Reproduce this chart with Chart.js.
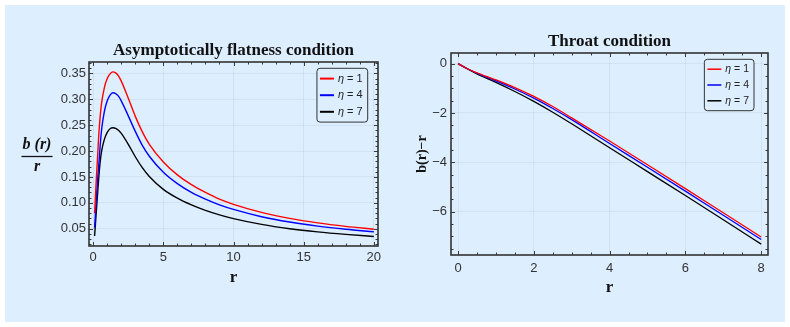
<!DOCTYPE html>
<html>
<head>
<meta charset="utf-8">
<script src="https://cdn.jsdelivr.net/npm/chart.js@4.4.0/dist/chart.umd.min.js"></script>
<style>
  body { margin: 0; background: #fff; }
  #panel { position: absolute; left: 5px; top: 5px; width: 780px; height: 317px; background: #ddeeff; }
  #flat { position: absolute; left: 0; top: 0; }
  #throat { position: absolute; left: 400px; top: 0; }
</style>
</head>
<body>
<div id="panel"></div>
<canvas id="flat" width="400" height="327"></canvas>
<canvas id="throat" width="390" height="327"></canvas>
<script>
// values
const etaValues = [1, 4, 7];
const lineColors = ["#ff0000", "#0000ff", "#000000"];

const rFlat = [0.1, 0.2, 0.3, 0.4, 0.5, 0.6, 0.8, 1.0, 1.2, 1.4, 1.6, 1.8, 2.0, 2.5, 3, 3.5, 4, 5, 6, 7, 8, 9, 10, 12, 14, 16, 18, 20];
const flatEta1 = [0.080, 0.135, 0.183, 0.232, 0.268, 0.293, 0.323, 0.340, 0.349, 0.353, 0.351, 0.345, 0.335, 0.302, 0.267, 0.237, 0.213, 0.179, 0.154, 0.135, 0.120, 0.107, 0.097, 0.0815, 0.070, 0.0613, 0.0545, 0.049];
const flatEta4 = [0.052, 0.098, 0.140, 0.175, 0.212, 0.242, 0.277, 0.297, 0.308, 0.3125, 0.311, 0.306, 0.297, 0.268, 0.238, 0.211, 0.190, 0.159, 0.137, 0.120, 0.107, 0.096, 0.0872, 0.0732, 0.0629, 0.055, 0.0489, 0.044];
const flatEta7 = [0.036, 0.075, 0.113, 0.150, 0.180, 0.200, 0.223, 0.236, 0.243, 0.245, 0.244, 0.240, 0.234, 0.213, 0.189, 0.168, 0.151, 0.126, 0.109, 0.096, 0.0854, 0.0767, 0.0695, 0.0583, 0.050, 0.0438, 0.039, 0.035];

const rThroat = [0, 0.25, 0.5, 1, 1.5, 2, 2.5, 3, 4, 5, 6, 7, 8];
const throatEta1 = [0, -0.21, -0.37, -0.66, -0.97, -1.33, -1.74, -2.20, -3.14, -4.10, -5.07, -6.05, -7.03];
const throatEta4 = [0, -0.21, -0.39, -0.70, -1.03, -1.40, -1.82, -2.27, -3.24, -4.20, -5.17, -6.15, -7.13];
const throatEta7 = [0, -0.22, -0.42, -0.76, -1.13, -1.53, -1.97, -2.44, -3.41, -4.38, -5.35, -6.33, -7.32];

const panelBg = "#ddeeff";
Chart.defaults.font.family = "'Liberation Sans', Arial, sans-serif";
Chart.defaults.color = "#333";

function buildSets(xs, series, width) {
  return series.map((ys, i) => ({
    label: "η = " + etaValues[i],
    data: xs.map((x, j) => ({ x: x, y: ys[j] })),
    borderColor: lineColors[i],
    borderWidth: width,
    pointRadius: 0,
    cubicInterpolationMode: "monotone",
    fill: false,
  }));
}

function fmtTick(v, digits) {
  if (Math.abs(v) < 1e-9) return "0";
  return (digits ? v.toFixed(digits) : String(Math.round(v))).replace("-", "\u2212");
}

// Mathematica style frame with inward major/minor ticks on all sides
const framePlugin = {
  id: "frame",
  afterDatasetsDraw(chart, args, opts) {
    const { ctx, chartArea: a, scales } = chart;
    ctx.save();
    ctx.strokeStyle = "#3a3a3a";
    ctx.lineWidth = 1;
    const eachTick = (scale, minor, major, cb) => {
      let v = Math.ceil(scale.min / minor - 1e-9) * minor;
      for (; v <= scale.max + 1e-9; v += minor) {
        const isMajor = Math.abs(v / major - Math.round(v / major)) < 1e-6;
        cb(scale.getPixelForValue(v), isMajor ? opts.majorLen : opts.minorLen);
      }
    };
    ctx.beginPath();
    eachTick(scales.x, opts.xMinor, opts.xMajor, (px, len) => {
      px = Math.round(px) + 0.5;
      ctx.moveTo(px, a.bottom); ctx.lineTo(px, a.bottom - len);
      ctx.moveTo(px, a.top); ctx.lineTo(px, a.top + len);
    });
    eachTick(scales.y, opts.yMinor, opts.yMajor, (py, len) => {
      py = Math.round(py) + 0.5;
      ctx.moveTo(a.left, py); ctx.lineTo(a.left + len, py);
      ctx.moveTo(a.right, py); ctx.lineTo(a.right - len, py);
    });
    ctx.stroke();
    ctx.lineWidth = 1.6;
    ctx.strokeStyle = "#333";
    ctx.strokeRect(a.left, a.top, a.right - a.left, a.bottom - a.top);
    ctx.restore();
  },
};

// boxed legend in the upper right corner of the plot
const boxLegendPlugin = {
  id: "boxLegend",
  afterDraw(chart, args, opts) {
    const { ctx, chartArea: a } = chart;
    const sets = chart.data.datasets;
    const fontSize = opts.fontSize;
    ctx.save();
    let textW = 0;
    sets.forEach((ds) => {
      ctx.font = "italic " + fontSize + "px 'Liberation Sans', Arial, sans-serif";
      let w = ctx.measureText("η").width;
      ctx.font = fontSize + "px 'Liberation Sans', Arial, sans-serif";
      w += ctx.measureText(ds.label.slice(1)).width;
      textW = Math.max(textW, w);
    });
    const boxW = 3 + opts.lineLen + 4 + textW + 5;
    const boxH = opts.rowH * sets.length + 4;
    const x0 = a.right - opts.right - boxW;
    const y0 = a.top + opts.top;
    ctx.beginPath();
    ctx.roundRect(x0, y0, boxW, boxH, 3);
    ctx.fillStyle = panelBg;
    ctx.fill();
    ctx.lineWidth = 1;
    ctx.strokeStyle = "#333";
    ctx.stroke();
    sets.forEach((ds, i) => {
      const cy = y0 + 2 + opts.rowH * (i + 0.5);
      ctx.beginPath();
      ctx.strokeStyle = ds.borderColor;
      ctx.lineWidth = opts.lineW;
      ctx.moveTo(x0 + 3, cy);
      ctx.lineTo(x0 + 3 + opts.lineLen, cy);
      ctx.stroke();
      ctx.fillStyle = "#222";
      ctx.textBaseline = "middle";
      let tx = x0 + 3 + opts.lineLen + 4;
      ctx.font = "italic " + fontSize + "px 'Liberation Sans', Arial, sans-serif";
      ctx.fillText("η", tx, cy);
      tx += ctx.measureText("η").width;
      ctx.font = fontSize + "px 'Liberation Sans', Arial, sans-serif";
      ctx.fillText(ds.label.slice(1), tx, cy);
    });
    ctx.restore();
  },
};

// stacked fraction label b(r)/r left of the first plot
const fractionLabelPlugin = {
  id: "fractionLabel",
  afterDraw(chart, args, opts) {
    if (!opts.top) return;
    const { ctx, chartArea: a } = chart;
    const cy = (a.top + a.bottom) / 2 + 2;
    ctx.save();
    ctx.fillStyle = "#111";
    ctx.textAlign = "center";
    ctx.font = "bold italic 16px 'Liberation Serif', 'Times New Roman', serif";
    ctx.textBaseline = "alphabetic";
    ctx.fillText(opts.top, opts.x, cy - 7);
    ctx.fillText(opts.bottom, opts.x, cy + 15);
    ctx.beginPath();
    ctx.lineWidth = 1.3;
    ctx.strokeStyle = "#111";
    ctx.moveTo(opts.x - 15.5, cy + 0.5);
    ctx.lineTo(opts.x + 15.5, cy + 0.5);
    ctx.stroke();
    ctx.restore();
  },
};

const gridStyle = { color: "rgba(60, 90, 120, 0.08)", lineWidth: 1, drawTicks: false };

new Chart(document.getElementById("flat"), {
  type: "line",
  data: { datasets: buildSets(rFlat, [flatEta1, flatEta4, flatEta7], 1.4) },
  options: {
    responsive: false,
    animation: false,
    layout: { padding: { left: 0, right: 22, top: 0, bottom: 0 } },
    scales: {
      x: {
        type: "linear",
        min: -0.3,
        max: 20.3,
        grid: gridStyle,
        border: { display: false },
        ticks: { stepSize: 5, includeBounds: false, padding: 4, font: { size: 13 }, callback: (v) => fmtTick(v, 0) },
        title: { display: true, text: "r", color: "#111", font: { family: "'Liberation Serif', serif", size: 17, weight: "bold" }, padding: { top: 0, bottom: 39 } },
        afterFit: (s) => { s.height = 81; },
      },
      y: {
        min: 0.0166,
        max: 0.372,
        grid: gridStyle,
        border: { display: false },
        ticks: { stepSize: 0.05, includeBounds: false, padding: 3, font: { size: 13 }, callback: (v) => fmtTick(v, 2) },
        afterFit: (s) => { s.width = 89; },
      },
    },
    plugins: {
      legend: { display: false },
      tooltip: { enabled: false },
      title: {
        display: true,
        fullSize: false,
        text: "Asymptotically flatness condition",
        color: "#111",
        font: { family: "'Liberation Serif', serif", size: 17, weight: "bold" },
        padding: { top: 40.4, bottom: 1.2 },
      },
      frame: { xMinor: 1, xMajor: 5, yMinor: 0.01, yMajor: 0.05, majorLen: 4, minorLen: 2.5 },
      boxLegend: { right: 10.3, top: 6.3, rowH: 16.6, lineLen: 14, lineW: 2, fontSize: 11 },
      fractionLabel: { top: "b (r)", bottom: "r", x: 37 },
    },
  },
  plugins: [framePlugin, boxLegendPlugin, fractionLabelPlugin],
});

new Chart(document.getElementById("throat"), {
  type: "line",
  data: { datasets: buildSets(rThroat, [throatEta1, throatEta4, throatEta7], 1.3) },
  options: {
    responsive: false,
    animation: false,
    layout: { padding: { left: 0, right: 22, top: 0, bottom: 0 } },
    scales: {
      x: {
        type: "linear",
        min: -0.185,
        max: 8.18,
        grid: gridStyle,
        border: { display: false },
        ticks: { stepSize: 2, includeBounds: false, padding: 5.5, font: { size: 13 }, callback: (v) => fmtTick(v, 0) },
        title: { display: true, text: "r", color: "#111", font: { family: "'Liberation Serif', serif", size: 17, weight: "bold" }, padding: { top: 0, bottom: 29 } },
        afterFit: (s) => { s.height = 72; },
      },
      y: {
        min: -7.76,
        max: 0.43,
        grid: gridStyle,
        border: { display: false },
        ticks: { stepSize: 2, includeBounds: false, padding: 4, font: { size: 13 }, callback: (v) => fmtTick(v, 0) },
        title: { display: true, text: "b(r)\u2212r", color: "#111", font: { family: "'Liberation Serif', serif", size: 14, weight: "bold" }, padding: { top: 13.6, bottom: 0 } },
        afterFit: (s) => { s.width = 51; },
      },
    },
    plugins: {
      legend: { display: false },
      tooltip: { enabled: false },
      title: {
        display: true,
        fullSize: false,
        text: "Throat condition",
        color: "#111",
        font: { family: "'Liberation Serif', serif", size: 17, weight: "bold" },
        padding: { top: 31.5, bottom: 1.1 },
      },
      frame: { xMinor: 0.5, xMajor: 2, yMinor: 0.5, yMajor: 2, majorLen: 4, minorLen: 2.5 },
      boxLegend: { right: 14, top: 6.3, rowH: 15.8, lineLen: 14, lineW: 1.5, fontSize: 10.5 },
      fractionLabel: {},
    },
  },
  plugins: [framePlugin, boxLegendPlugin, fractionLabelPlugin],
});
</script>
</body>
</html>
